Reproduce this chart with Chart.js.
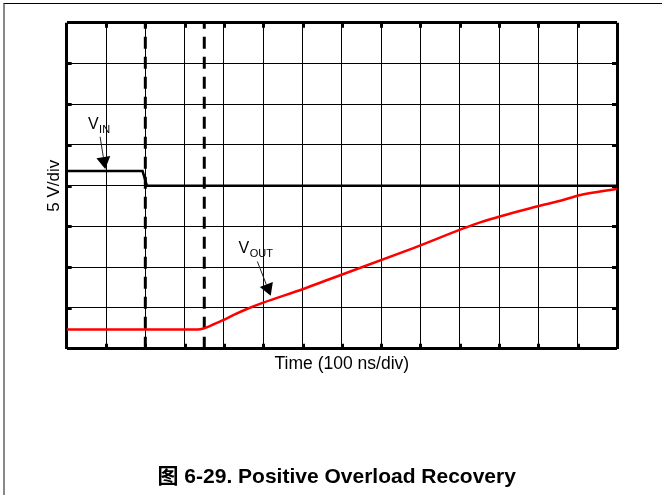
<!DOCTYPE html>
<html>
<head>
<meta charset="utf-8">
<script src="https://cdn.jsdelivr.net/npm/chart.js@4"></script>
<style>
  html, body { margin: 0; padding: 0; background: #fff; }
  #wrap { position: relative; width: 662px; height: 495px; }
  #edge { position: absolute; left: 3px; top: 3px; right: 0; bottom: 0; border-top: 1px solid #000; border-left: 2px solid #888; pointer-events: none; }
</style>
</head>
<body>
<div id="wrap">
  <canvas id="myChart" width="662" height="495"></canvas>
  <div id="edge"></div>
</div>
<script>
const d = document;
const ctx = d.getElementById('myChart').getContext('2d');

// x in divisions (100 ns/div), y in divisions (5 V/div)
const vinTime = [0, 1.93, 2.04, 2.2, 14];
const vinLevel = [4.36, 4.36, 4.0, 4.0, 4.0];
const voutTime = [0, 3.05, 3.4, 3.65, 4.0, 4.25, 4.6, 5.0, 6.0, 6.7, 8.82, 10.52, 11.96, 12.56, 13.07, 14];
const voutLevel = [0.47, 0.47, 0.48, 0.56, 0.71, 0.83, 0.98, 1.13, 1.46, 1.71, 2.47, 3.1, 3.49, 3.63, 3.77, 3.92];
const markerTime = [2, 3.5];
const markerLevel = [0, 8];

const xDivs = 14;
const yDivs = 8;
const xTitle = 'Time (100 ns/div)';
const yTitle = '5 V/div';
const caption = '图 6-29. Positive Overload Recovery';

const notes = [
    { name: 'V', sub: 'IN', at: [0.54, 5.39], from: [0.85, 5.2], to: [0.98, 4.41] },
    { name: 'V', sub: 'OUT', at: [4.37, 2.34], from: [4.85, 2.14], to: [5.19, 1.30] }
];

const FONT = '"Liberation Sans", Arial, "Noto Sans CJK SC", sans-serif';

const toPoints = (xs, ys) => xs.map((x, i) => ({ x: x, y: ys[i] }));

const markerSets = markerTime.map(t => ({
    data: toPoints([t, t], markerLevel),
    borderColor: '#000',
    borderWidth: 3,
    borderDash: [12, 8],
    pointRadius: 0,
    order: 3
}));

// small stubs on the inside of the frame at each division
const frameTicks = {
    id: 'frameTicks',
    beforeDatasetsDraw(chart) {
        const { ctx: c, chartArea: a, scales } = chart;
        c.save();
        c.strokeStyle = '#000';
        c.lineWidth = 3;
        c.beginPath();
        for (let i = 1; i < yDivs; i++) {
            const py = Math.round(scales.y.getPixelForValue(i)) + 0.5;
            c.moveTo(a.left, py); c.lineTo(a.left + 5, py);
            c.moveTo(a.right - 5, py); c.lineTo(a.right, py);
        }
        for (let i = 1; i < xDivs; i++) {
            const px = Math.round(scales.x.getPixelForValue(i)) + 0.5;
            c.moveTo(px, a.bottom); c.lineTo(px, a.bottom - 5);
            c.moveTo(px, a.top); c.lineTo(px, a.top + 5);
        }
        c.stroke();
        c.restore();
    }
};

// V_IN / V_OUT callouts and the figure caption
const labels = {
    id: 'labels',
    afterDatasetsDraw(chart) {
        const { ctx: c, scales } = chart;
        const X = v => scales.x.getPixelForValue(v);
        const Y = v => scales.y.getPixelForValue(v);
        c.save();
        c.fillStyle = '#000';
        c.strokeStyle = '#222';
        c.textBaseline = 'alphabetic';
        notes.forEach(n => {
            const lx = X(n.at[0]), ly = Y(n.at[1]);
            c.font = '16px ' + FONT;
            c.fillText(n.name, lx, ly);
            const w = c.measureText(n.name).width;
            c.font = '11px ' + FONT;
            c.fillText(n.sub, lx + w + 0.5, ly + 4);

            const x1 = X(n.from[0]), y1 = Y(n.from[1]);
            const x2 = X(n.to[0]), y2 = Y(n.to[1]);
            const len = Math.hypot(x2 - x1, y2 - y1);
            const ux = (x2 - x1) / len, uy = (y2 - y1) / len;
            const bx = x2 - ux * 12, by = y2 - uy * 12;
            c.lineWidth = 1;
            c.beginPath();
            c.moveTo(x1, y1); c.lineTo(bx, by);
            c.stroke();
            c.beginPath();
            c.moveTo(x2, y2);
            c.lineTo(bx - uy * 7, by + ux * 7);
            c.lineTo(bx + uy * 7, by - ux * 7);
            c.closePath();
            c.fill();
        });
        c.font = 'bold 21px ' + FONT;
        c.textAlign = 'center';
        c.fillText(caption, 336.7, 483);
        c.restore();
    }
};

const edgeWidth = max => c => (c.tick && (c.tick.value === 0 || c.tick.value === max)) ? 3 : 1;

const myChart = new Chart(ctx, {
    type: 'line',
    data: {
        datasets: [
            {
                data: toPoints(voutTime, voutLevel),
                borderColor: '#ff0000',
                borderWidth: 2.5,
                pointRadius: 0,
                cubicInterpolationMode: 'monotone',
                order: 2
            },
            {
                data: toPoints(vinTime, vinLevel),
                borderColor: '#000',
                borderWidth: 2.5,
                pointRadius: 0,
                tension: 0,
                order: 1
            },
            ...markerSets
        ]
    },
    options: {
        responsive: false,
        devicePixelRatio: 1,
        animation: false,
        events: [],
        layout: { padding: { left: 43.9, right: 45, top: 22.7, bottom: 31.9 } },
        plugins: {
            legend: { display: false },
            tooltip: { enabled: false }
        },
        scales: {
            x: {
                type: 'linear',
                min: 0,
                max: xDivs,
                ticks: { display: false, stepSize: 1 },
                grid: { color: '#000', lineWidth: edgeWidth(xDivs), drawTicks: false },
                border: { display: false },
                title: {
                    display: true,
                    text: xTitle,
                    color: '#000',
                    font: { family: FONT, size: 17.5 },
                    padding: { top: 5.4, bottom: 88 }
                }
            },
            y: {
                type: 'linear',
                min: 0,
                max: yDivs,
                ticks: { display: false, stepSize: 1 },
                grid: { color: '#000', lineWidth: edgeWidth(yDivs), drawTicks: false },
                border: { display: false },
                title: {
                    display: true,
                    text: yTitle,
                    color: '#000',
                    font: { family: FONT, size: 17 },
                    padding: { top: 0, bottom: 2.4 }
                }
            }
        }
    },
    plugins: [frameTicks, labels]
});
</script>
</body>
</html>
